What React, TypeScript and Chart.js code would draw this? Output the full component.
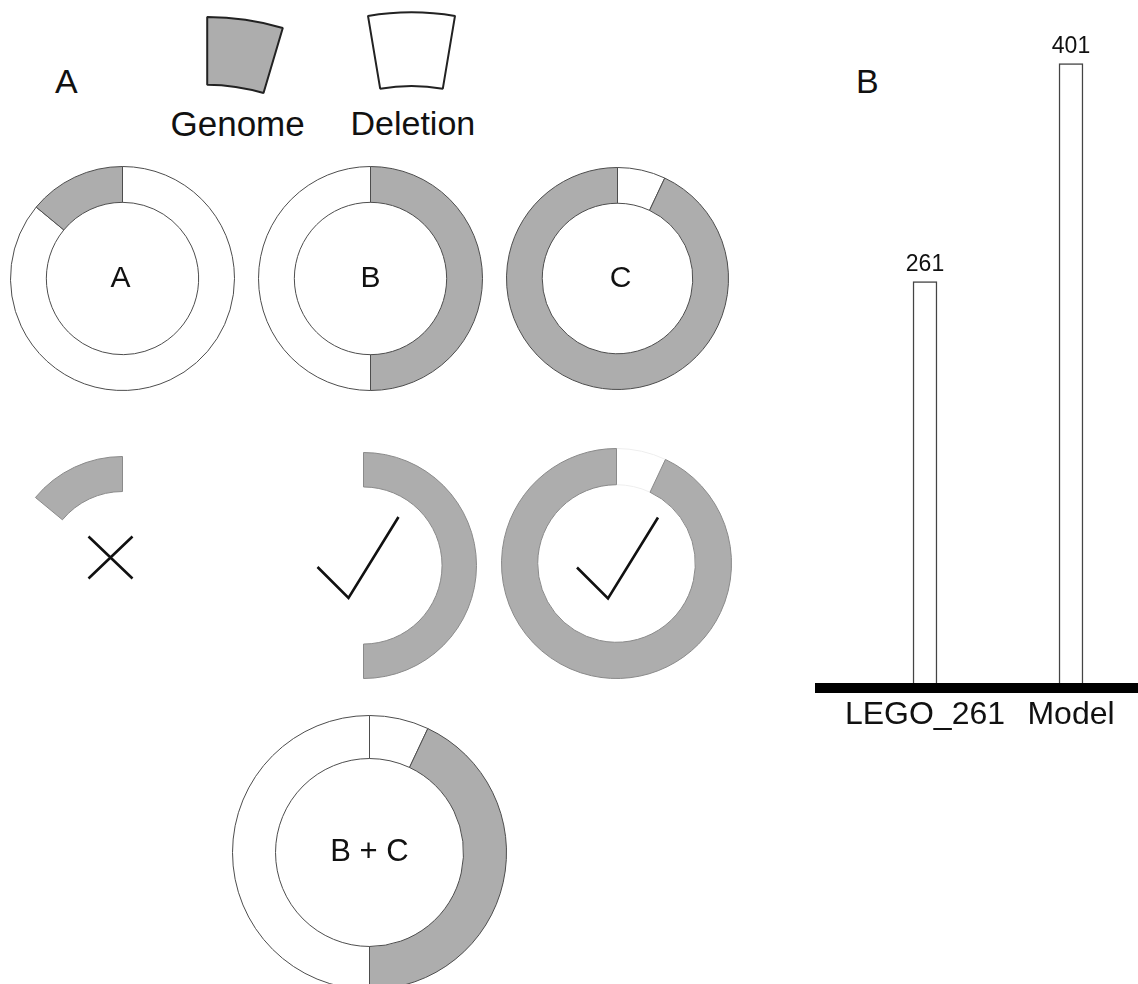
import React, { useEffect, useRef } from 'react';
import { Chart, registerables } from 'chart.js';

Chart.register(...registerables);

// ---------- data ----------
// Ring composition, percent of the circumference, clockwise from 12 o'clock
const ringA = [86, 14];
const ringAKinds = ['deletion', 'genome'];
const ringB = [50, 50];
const ringBKinds = ['genome', 'deletion'];
const ringC = [7, 93];
const ringCKinds = ['deletion', 'genome'];
const ringBC = [7, 43, 50];
const ringBCKinds = ['deletion', 'genome', 'deletion'];

// Legend sectors (degrees of arc)
const legendGenomeArc = [16.5];
const legendDeletionArc = [19];

// Panel B
const barCategories = ['LEGO_261', 'Model'];
const barValues = [261, 401];
const yAxisMax = 420;

// ---------- styles ----------
const FONT = '"Liberation Sans", Arial, Helvetica, sans-serif';
const GRAY = '#adadad';
const WHITE = '#ffffff';
const NONE = 'rgba(0,0,0,0)';

type Sym = { strokes: number[][][] } | null;

function Ring(props: {
  values: number[];
  kinds: string[];
  fragment?: boolean;
  cx: number;
  cy: number;
  r: number;
  cutout: string;
  label?: string;
  labelSize?: number;
  labelDx?: number;
  symbol?: Sym;
  gapBorder?: string;
}) {
  const ref = useRef<HTMLCanvasElement>(null);
  const { values, kinds, fragment, cx, cy, r, cutout, label, labelSize, labelDx, symbol, gapBorder } = props;
  const S = 2 * r + 1;
  useEffect(() => {
    const bg = kinds.map((k) => (k === 'genome' ? GRAY : fragment ? NONE : WHITE));
    const bc = kinds.map((k) =>
      fragment ? (k === 'genome' ? '#8a8a8a' : gapBorder || NONE) : '#4d4d4d'
    );
    const bw = kinds.map((k) => (fragment && k !== 'genome' && !gapBorder ? 0 : 1));
    const overlay = {
      id: 'overlay',
      afterDraw(chart: any) {
        const arc = chart.getDatasetMeta(0).data[0];
        const x = arc.x;
        const y = arc.y;
        const ctx = chart.ctx;
        ctx.save();
        if (label) {
          ctx.font = `${labelSize || 30}px ${FONT}`;
          ctx.fillStyle = '#111';
          ctx.textAlign = 'center';
          ctx.textBaseline = 'middle';
          ctx.fillText(label, x + (labelDx || 0), y);
        }
        if (symbol) {
          ctx.strokeStyle = '#111';
          ctx.lineWidth = 2.6;
          ctx.lineJoin = 'miter';
          ctx.beginPath();
          symbol.strokes.forEach((s) => {
            ctx.moveTo(x + s[0][0], y + s[0][1]);
            for (let i = 1; i < s.length; i++) ctx.lineTo(x + s[i][0], y + s[i][1]);
          });
          ctx.stroke();
        }
        ctx.restore();
      },
    };
    const chart = new Chart(ref.current as HTMLCanvasElement, {
      type: 'doughnut',
      data: {
        labels: kinds,
        datasets: [{ data: values, backgroundColor: bg, borderColor: bc, borderWidth: bw }],
      },
      options: {
        responsive: false,
        animation: false,
        cutout,
        events: [],
        plugins: { legend: { display: false }, tooltip: { enabled: false } },
      } as any,
      plugins: [overlay],
    });
    return () => chart.destroy();
  }, []);
  return (
    <canvas
      ref={ref}
      width={S}
      height={S}
      style={{ position: 'absolute', left: cx - S / 2, top: cy - S / 2, width: S, height: S }}
    />
  );
}

function Sector(props: {
  arc: number[];
  rotation: number;
  cutout: string;
  color: string;
  left: number;
  top: number;
  w: number;
  h: number;
}) {
  const ref = useRef<HTMLCanvasElement>(null);
  const { arc, rotation, cutout, color, left, top, w, h } = props;
  useEffect(() => {
    const chart = new Chart(ref.current as HTMLCanvasElement, {
      type: 'doughnut',
      data: {
        labels: ['legend'],
        datasets: [{ data: [1], backgroundColor: color, borderColor: '#222', borderWidth: 2 }],
      },
      options: {
        responsive: false,
        animation: false,
        cutout,
        rotation,
        circumference: arc[0],
        events: [],
        plugins: { legend: { display: false }, tooltip: { enabled: false } },
      } as any,
    });
    return () => chart.destroy();
  }, []);
  return (
    <canvas
      ref={ref}
      width={w}
      height={h}
      style={{ position: 'absolute', left, top, width: w, height: h }}
    />
  );
}

function Bars() {
  const ref = useRef<HTMLCanvasElement>(null);
  const W = 329;
  const H = 748;
  useEffect(() => {
    const deco = {
      id: 'barDeco',
      afterDatasetsDraw(chart: any) {
        const ctx = chart.ctx;
        const y0 = chart.scales.y.getPixelForValue(0);
        ctx.save();
        ctx.fillStyle = '#000';
        ctx.fillRect(0, y0 - 5, chart.width, 10);
        ctx.font = `23px ${FONT}`;
        ctx.textAlign = 'center';
        ctx.textBaseline = 'alphabetic';
        ctx.fillStyle = '#111';
        chart.getDatasetMeta(0).data.forEach((bar: any, i: number) => {
          ctx.fillText(String(barValues[i]), bar.x, bar.y - 11);
        });
        ctx.restore();
      },
    };
    const chart = new Chart(ref.current as HTMLCanvasElement, {
      type: 'bar',
      data: {
        labels: barCategories,
        datasets: [
          {
            data: barValues,
            backgroundColor: WHITE,
            borderColor: '#444',
            borderWidth: 1.5,
            barThickness: 24,
          },
        ],
      },
      options: {
        responsive: false,
        animation: false,
        events: [],
        layout: { padding: { left: 37, top: 34, right: 0, bottom: 0 } },
        plugins: { legend: { display: false }, tooltip: { enabled: false } },
        scales: {
          y: { display: false, min: 0, max: yAxisMax },
          x: {
            grid: { display: false, drawTicks: false },
            border: { display: false },
            ticks: {
              font: { family: FONT, size: 32 },
              color: '#111',
              padding: 8,
              maxRotation: 0,
              minRotation: 0,
              autoSkip: false,
            },
            afterFit: (axis: any) => {
              axis.height = 60;
            },
          },
        },
      } as any,
      plugins: [deco],
    });
    return () => chart.destroy();
  }, []);
  return (
    <canvas
      ref={ref}
      width={W}
      height={H}
      style={{ position: 'absolute', left: 815, top: 0, width: W, height: H }}
    />
  );
}

const txt = (left: number, top: number, size: number): React.CSSProperties => ({
  position: 'absolute',
  left,
  top,
  fontSize: size,
  lineHeight: `${size}px`,
  fontFamily: FONT,
  color: '#111',
  whiteSpace: 'nowrap',
});

export default function App() {
  const cross: Sym = { strokes: [[[-34, -33], [10, 9]], [[10, -33], [-34, 9]]] };
  const checkB: Sym = { strokes: [[[-46, 1.5], [-15, 32.5], [35, -48.5]]] };
  const checkC: Sym = { strokes: [[[-39.5, 4], [-8.5, 35], [41.5, -46]]] };
  return (
    <div
      style={{
        position: 'absolute',
        left: 0,
        top: 0,
        width: 1138,
        height: 984,
        overflow: 'hidden',
        background: '#fff',
      }}
    >
      <div style={txt(55, 63.5, 34)}>A</div>
      <div style={txt(856, 64, 34)}>B</div>
      <div style={txt(170.5, 106, 35)}>Genome</div>
      <div style={txt(350.5, 106, 34)}>Deletion</div>

      <Sector arc={legendGenomeArc} rotation={0} cutout="74.5%" color={GRAY} left={206} top={16} w={78} h={78} />
      <Sector arc={legendDeletionArc} rotation={-9.5} cutout="72%" color={WHITE} left={367} top={11} w={89} h={79} />

      <Ring values={ringA} kinds={ringAKinds} cx={122} cy={278} r={112} cutout="68%" label="A" labelDx={-2} />
      <Ring values={ringB} kinds={ringBKinds} cx={370} cy={278} r={112} cutout="68%" label="B" />
      <Ring values={ringC} kinds={ringCKinds} cx={617} cy={278} r={111} cutout="67.8%" label="C" labelDx={3} />

      <Ring values={ringA} kinds={ringAKinds} fragment cx={122} cy={569} r={113} cutout="69%" symbol={cross} />
      <Ring values={ringB} kinds={ringBKinds} fragment cx={363} cy={565.5} r={113} cutout="69.5%" symbol={checkB} />
      <Ring values={ringC} kinds={ringCKinds} fragment cx={616.5} cy={563} r={115} cutout="68.5%" symbol={checkC} gapBorder="#eeeeee" />

      <Ring values={ringBC} kinds={ringBCKinds} cx={369} cy={852} r={137} cutout="68.6%" label="B + C" labelSize={31} />

      <Bars />
    </div>
  );
}
